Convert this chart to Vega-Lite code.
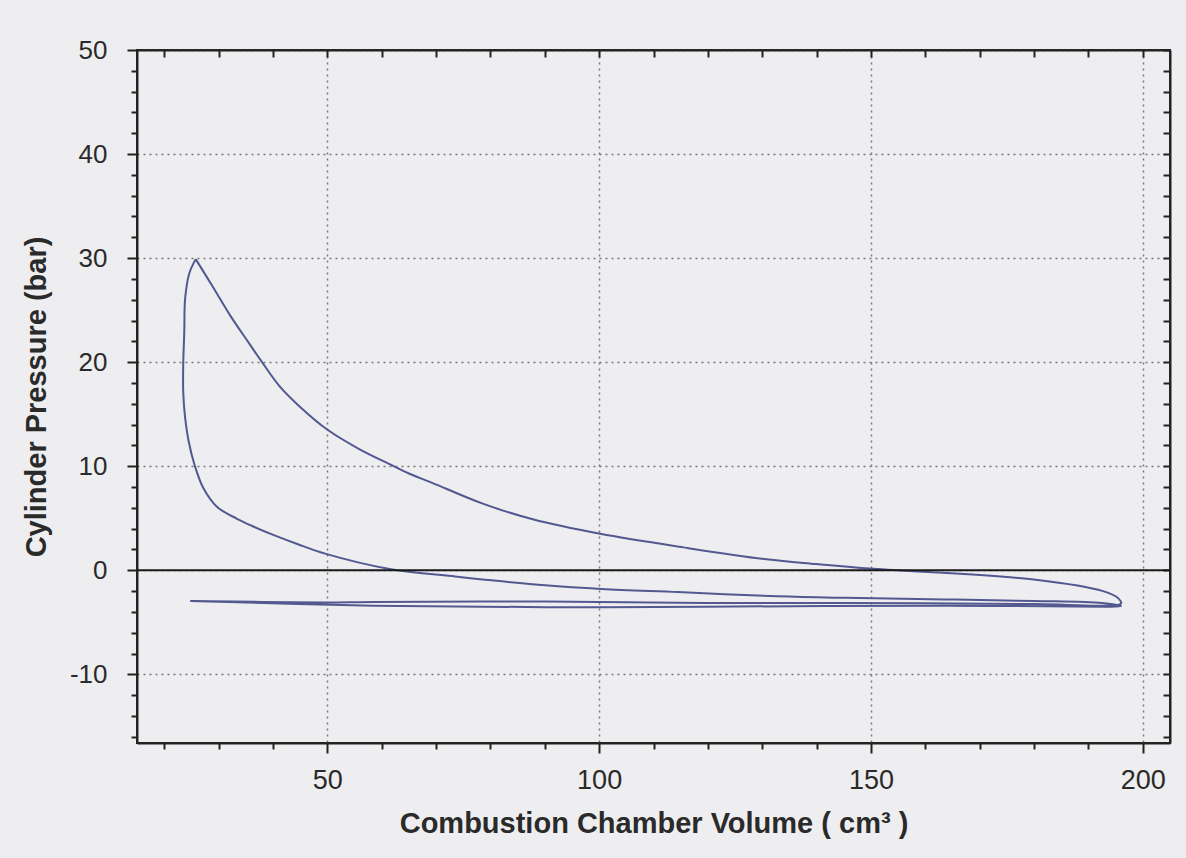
{
  "$schema": "https://vega.github.io/schema/vega-lite/v6.json",
  "autosize": {"type": "none"},
  "width": 1033,
  "height": 693,
  "padding": {"left": 137, "top": 50, "right": 16, "bottom": 115},
  "background": "#eeeef0",
  "config": {
    "font": "Liberation Sans",
    "view": {"stroke": "#222222", "strokeWidth": 2}
  },
  "datasets": {
    "cycle": [
      {"seq": 1, "volume": 25.8, "pressure": 29.9},
      {"seq": 2, "volume": 29.0, "pressure": 27.2},
      {"seq": 3, "volume": 32.25, "pressure": 24.4},
      {"seq": 4, "volume": 35.5, "pressure": 21.9},
      {"seq": 5, "volume": 38.0, "pressure": 20.0},
      {"seq": 6, "volume": 41.2, "pressure": 17.7},
      {"seq": 7, "volume": 45.0, "pressure": 15.7},
      {"seq": 8, "volume": 50.05, "pressure": 13.5},
      {"seq": 9, "volume": 55.7, "pressure": 11.7},
      {"seq": 10, "volume": 61.85, "pressure": 10.1},
      {"seq": 11, "volume": 65.0, "pressure": 9.3},
      {"seq": 12, "volume": 69.3, "pressure": 8.4},
      {"seq": 13, "volume": 78.6, "pressure": 6.4},
      {"seq": 14, "volume": 87.8, "pressure": 4.9},
      {"seq": 15, "volume": 100.2, "pressure": 3.5},
      {"seq": 16, "volume": 115.5, "pressure": 2.2},
      {"seq": 17, "volume": 130.8, "pressure": 1.05},
      {"seq": 18, "volume": 140.0, "pressure": 0.6},
      {"seq": 19, "volume": 150.4, "pressure": 0.15},
      {"seq": 20, "volume": 180.3, "pressure": -0.9},
      {"seq": 21, "volume": 192.7, "pressure": -2.0},
      {"seq": 22, "volume": 195.5, "pressure": -2.7},
      {"seq": 23, "volume": 196.0, "pressure": -3.2},
      {"seq": 24, "volume": 192.8, "pressure": -3.4},
      {"seq": 25, "volume": 180.2, "pressure": -3.25},
      {"seq": 26, "volume": 145.0, "pressure": -3.15},
      {"seq": 27, "volume": 119.5, "pressure": -3.15},
      {"seq": 28, "volume": 90.2, "pressure": -3.0},
      {"seq": 29, "volume": 58.5, "pressure": -3.05},
      {"seq": 30, "volume": 49.3, "pressure": -3.1},
      {"seq": 31, "volume": 24.8, "pressure": -2.95},
      {"seq": 32, "volume": 58.5, "pressure": -3.4},
      {"seq": 33, "volume": 90.2, "pressure": -3.55},
      {"seq": 34, "volume": 119.5, "pressure": -3.5},
      {"seq": 35, "volume": 163.5, "pressure": -3.4},
      {"seq": 36, "volume": 193.0, "pressure": -3.5},
      {"seq": 37, "volume": 196.0, "pressure": -3.45},
      {"seq": 38, "volume": 192.5, "pressure": -3.15},
      {"seq": 39, "volume": 180.0, "pressure": -2.95},
      {"seq": 40, "volume": 163.5, "pressure": -2.8},
      {"seq": 41, "volume": 145.1, "pressure": -2.65},
      {"seq": 42, "volume": 132.8, "pressure": -2.5},
      {"seq": 43, "volume": 114.5, "pressure": -2.1},
      {"seq": 44, "volume": 100.5, "pressure": -1.8},
      {"seq": 45, "volume": 90.1, "pressure": -1.45},
      {"seq": 46, "volume": 79.0, "pressure": -0.9},
      {"seq": 47, "volume": 73.5, "pressure": -0.6},
      {"seq": 48, "volume": 61.2, "pressure": 0.15},
      {"seq": 49, "volume": 49.6, "pressure": 1.6},
      {"seq": 50, "volume": 44.6, "pressure": 2.5},
      {"seq": 51, "volume": 40.3, "pressure": 3.35},
      {"seq": 52, "volume": 36.0, "pressure": 4.3},
      {"seq": 53, "volume": 33.4, "pressure": 4.95},
      {"seq": 54, "volume": 29.7, "pressure": 6.1},
      {"seq": 55, "volume": 27.2, "pressure": 7.9},
      {"seq": 56, "volume": 25.6, "pressure": 10.1},
      {"seq": 57, "volume": 24.5, "pressure": 12.4},
      {"seq": 58, "volume": 23.8, "pressure": 14.9},
      {"seq": 59, "volume": 23.5, "pressure": 17.2},
      {"seq": 60, "volume": 23.5, "pressure": 19.7},
      {"seq": 61, "volume": 23.7, "pressure": 23.0},
      {"seq": 62, "volume": 23.85, "pressure": 26.1},
      {"seq": 63, "volume": 24.6, "pressure": 28.5},
      {"seq": 64, "volume": 25.8, "pressure": 29.9}
    ],
    "zero": [{"pressure": 0}]
  },
  "resolve": {"axis": {"x": "independent", "y": "independent"}},
  "layer": [
    {
      "data": {"name": "cycle"},
      "mark": {"type": "line", "stroke": "#525890", "strokeWidth": 2, "interpolate": "catmull-rom"},
      "encoding": {
        "x": {
          "field": "volume", "type": "quantitative",
          "scale": {"domain": [15, 205], "nice": false, "zero": false},
          "axis": {
            "orient": "bottom",
            "title": "Combustion Chamber Volume ( cm³ )",
            "titleFontSize": 29, "titleFontWeight": "bold", "titleColor": "#2a2a2a", "titlePadding": 16,
            "values": [20, 30, 40, 50, 60, 70, 80, 90, 100, 110, 120, 130, 140, 150, 160, 170, 180, 190, 200],
            "labelExpr": "datum.value % 50 === 0 ? '' + datum.value : ''",
            "labelFontSize": 27, "labelColor": "#2a2a2a", "labelPadding": 14,
            "tickSize": {"condition": {"test": "datum.value % 50 === 0", "value": 10}, "value": 6},
            "tickColor": "#222222", "tickWidth": 2,
            "domainColor": "#222222", "domainWidth": 2,
            "grid": true,
            "gridOpacity": {"condition": {"test": "datum.value % 50 === 0", "value": 1}, "value": 0},
            "gridColor": "#777777", "gridDash": [2, 4], "gridWidth": 1.5
          }
        },
        "y": {
          "field": "pressure", "type": "quantitative",
          "scale": {"domain": [-16.6, 50], "nice": false, "zero": false},
          "axis": {
            "orient": "left",
            "title": "Cylinder Pressure (bar)",
            "titleFontSize": 29, "titleFontWeight": "bold", "titleColor": "#2a2a2a", "titlePadding": 18,
            "values": [-16, -14, -12, -10, -8, -6, -4, -2, 0, 2, 4, 6, 8, 10, 12, 14, 16, 18, 20, 22, 24, 26, 28, 30, 32, 34, 36, 38, 40, 42, 44, 46, 48, 50],
            "labelExpr": "datum.value % 10 === 0 ? '' + datum.value : ''",
            "labelFontSize": 26, "labelColor": "#2a2a2a", "labelPadding": 20,
            "tickSize": {"condition": {"test": "datum.value % 10 === 0", "value": 10}, "value": 6},
            "tickColor": "#222222", "tickWidth": 2,
            "domainColor": "#222222", "domainWidth": 2,
            "grid": true,
            "gridOpacity": {"condition": {"test": "datum.value % 10 === 0", "value": 1}, "value": 0},
            "gridColor": "#777777", "gridDash": [2, 4], "gridWidth": 1.5
          }
        },
        "order": {"field": "seq", "type": "quantitative"}
      }
    },
    {
      "data": {"name": "cycle"},
      "mark": {"type": "point", "opacity": 0},
      "encoding": {
        "x": {
          "field": "volume", "type": "quantitative",
          "axis": {
            "orient": "top", "title": null, "labels": false, "grid": false,
            "values": [20, 30, 40, 50, 60, 70, 80, 90, 100, 110, 120, 130, 140, 150, 160, 170, 180, 190, 200],
            "tickSize": -7, "tickColor": "#222222", "tickWidth": 2,
            "domainColor": "#222222", "domainWidth": 2
          }
        },
        "y": {
          "field": "pressure", "type": "quantitative",
          "axis": {
            "orient": "right", "title": null, "labels": false, "grid": false,
            "values": [-16, -14, -12, -10, -8, -6, -4, -2, 0, 2, 4, 6, 8, 10, 12, 14, 16, 18, 20, 22, 24, 26, 28, 30, 32, 34, 36, 38, 40, 42, 44, 46, 48, 50],
            "tickSize": -7, "tickColor": "#222222", "tickWidth": 2,
            "domainColor": "#222222", "domainWidth": 2
          }
        }
      }
    },
    {
      "data": {"name": "zero"},
      "mark": {"type": "rule", "color": "#1a1a1a", "strokeWidth": 2},
      "encoding": {
        "y": {"field": "pressure", "type": "quantitative", "axis": null}
      }
    }
  ]
}
